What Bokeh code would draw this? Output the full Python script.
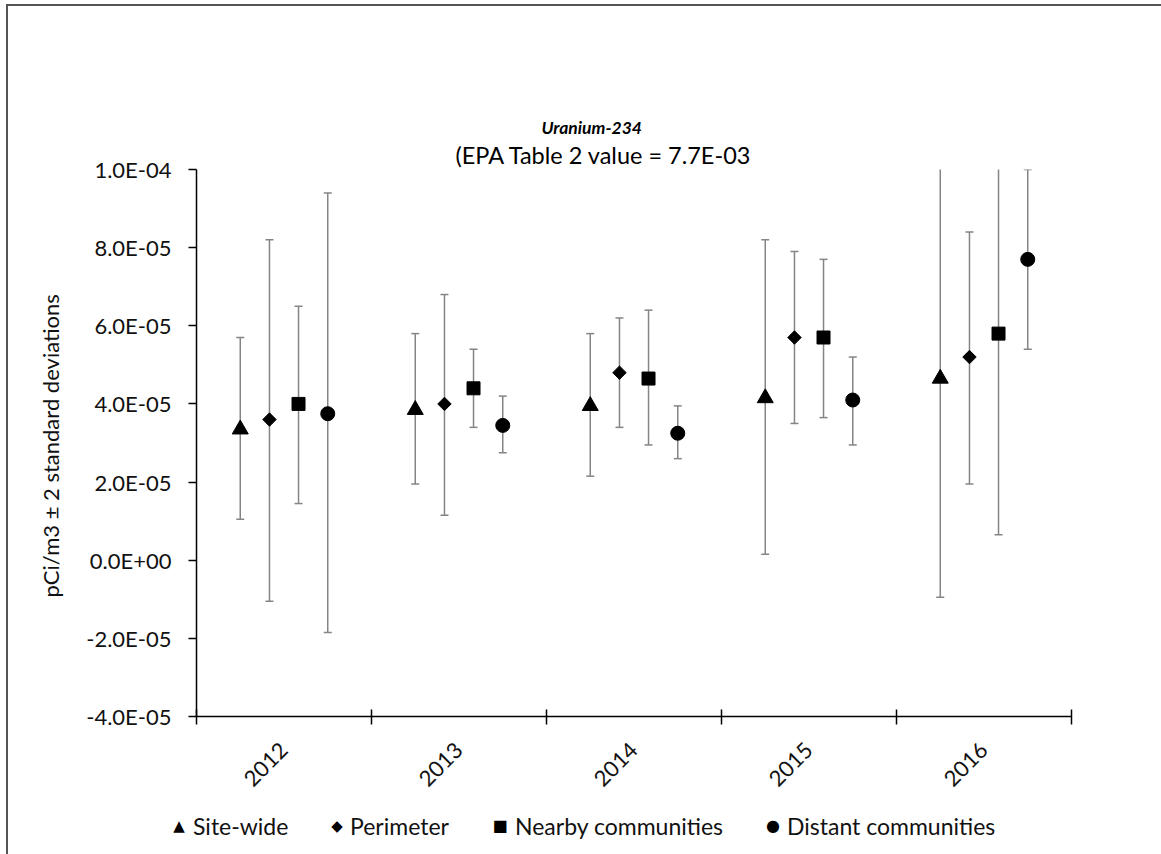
import math
from bokeh.plotting import figure
from bokeh.layouts import column
from bokeh.models import (ColumnDataSource, FixedTicker, CustomJSTickFormatter,
                          Range1d, Title, Div)
from bokeh.transform import dodge
from bokeh.embed import file_html
from bokeh.resources import INLINE

years = ["2012", "2013", "2014", "2015", "2016"]
series = ["Site-wide", "Perimeter", "Nearby communities", "Distant communities"]

site_mean = [3.35e-5, 3.85e-5, 3.95e-5, 4.15e-5, 4.65e-5]
site_lo = [1.05e-5, 1.95e-5, 2.15e-5, 0.15e-5, -0.95e-5]
site_hi = [5.7e-5, 5.8e-5, 5.8e-5, 8.2e-5, 1.03e-4]

perim_mean = [3.6e-5, 4.0e-5, 4.8e-5, 5.7e-5, 5.2e-5]
perim_lo = [-1.05e-5, 1.15e-5, 3.4e-5, 3.5e-5, 1.95e-5]
perim_hi = [8.2e-5, 6.8e-5, 6.2e-5, 7.9e-5, 8.4e-5]

near_mean = [4.0e-5, 4.4e-5, 4.65e-5, 5.7e-5, 5.8e-5]
near_lo = [1.45e-5, 3.4e-5, 2.95e-5, 3.65e-5, 0.65e-5]
near_hi = [6.5e-5, 5.4e-5, 6.4e-5, 7.7e-5, 1.09e-4]

dist_mean = [3.75e-5, 3.45e-5, 3.25e-5, 4.1e-5, 7.7e-5]
dist_lo = [-1.85e-5, 2.75e-5, 2.6e-5, 2.95e-5, 5.4e-5]
dist_hi = [9.4e-5, 4.2e-5, 3.95e-5, 5.2e-5, 1.0e-4]

y_ticks = [-4e-5, -2e-5, 0.0, 2e-5, 4e-5, 6e-5, 8e-5, 1e-4]

FONT = "Lato"
TXT = "#111111"

x_centers = [i + 0.5 for i in range(len(years))]
boundaries = [float(i) for i in range(len(years) + 1)]

p = figure(width=1153, height=794, output_backend="svg", toolbar_location=None,
           x_range=Range1d(0, len(years)), y_range=Range1d(-4e-5, 1e-4),
           min_border_left=188, min_border_right=90, min_border_top=163,
           min_border_bottom=84)
p.outline_line_color = None
p.xgrid.visible = False
p.ygrid.visible = False

# titles
p.add_layout(Title(text="(EPA Table 2 value = 7.7E-03", align="left", offset=259,
                   text_font=FONT, text_font_size="23.5px", text_font_style="normal",
                   text_color="#000000", standoff=2), "above")
p.add_layout(Title(text="Uranium-234", align="left", offset=345,
                   text_font=FONT, text_font_size="17.5px", text_font_style="bold italic",
                   text_color="#000000", standoff=0), "above")

# y axis
ya = p.yaxis[0]
ya.ticker = FixedTicker(ticks=y_ticks, minor_ticks=[])
ya.formatter = CustomJSTickFormatter(code="""
    if (Math.abs(tick) < 1e-15) { return '0.0E+00'; }
    const parts = tick.toExponential(1).split('e');
    const e = parseInt(parts[1]);
    const a = Math.abs(e);
    return parts[0] + 'E' + (e < 0 ? '-' : '+') + (a < 10 ? '0' : '') + a;
""")
ya.axis_label = "pCi/m3 \u00b1  2 standard deviations"
ya.axis_label_text_font = FONT
ya.axis_label_text_font_size = "22px"
ya.axis_label_text_font_style = "normal"
ya.axis_label_text_color = TXT
ya.axis_label_standoff = 19
ya.major_label_text_font = FONT
ya.major_label_text_font_size = "22px"
ya.major_label_text_color = TXT
ya.major_label_standoff = 17
ya.major_tick_in = 0
ya.major_tick_out = 8
ya.axis_line_color = "#000000"
ya.axis_line_width = 1.5
ya.major_tick_line_color = "#000000"
ya.major_tick_line_width = 1.5

# x axis
xa = p.xaxis[0]
xa.ticker = FixedTicker(ticks=x_centers, minor_ticks=boundaries)
xa.major_label_overrides = {c: y for c, y in zip(x_centers, years)}
xa.major_label_orientation = math.pi / 4
xa.major_label_text_font = FONT
xa.major_label_text_font_size = "22px"
xa.major_label_text_color = TXT
xa.major_label_standoff = 22
xa.major_tick_line_color = None
xa.minor_tick_in = 7
xa.minor_tick_out = 8
xa.minor_tick_line_color = "#000000"
xa.minor_tick_line_width = 1.5
xa.axis_line_color = "#000000"
xa.axis_line_width = 1.5

offsets = [-0.25, -0.083, 0.083, 0.25]
means = [site_mean, perim_mean, near_mean, dist_mean]
los = [site_lo, perim_lo, near_lo, dist_lo]
his = [site_hi, perim_hi, near_hi, dist_hi]
markers = [("triangle", 16, 0.0), ("square", 9.5, math.pi / 4),
           ("square", 13, 0.0), ("circle", 14, 0.0)]

ERR = "#858585"
for name, off, m, lo, hi, (mk, sz, ang) in zip(series, offsets, means, los, his, markers):
    src = ColumnDataSource(dict(xc=x_centers, m=m, lo=lo, hi=hi))
    xs = dodge("xc", off)
    p.segment(x0=xs, y0="lo", x1=xs, y1="hi", source=src, line_color=ERR, line_width=1.5)
    p.scatter(x=xs, y="lo", source=src, marker="dash", size=8, line_color=ERR, line_width=1.5)
    p.scatter(x=xs, y="hi", source=src, marker="dash", size=8, line_color=ERR, line_width=1.5)
    p.scatter(x=xs, y="m", source=src, marker=mk, size=sz, angle=ang,
              fill_color="#000000", line_color="#000000")

# legend strip below the chart (HTML)
legend_symbols = ["\u25B2", "\u25C6", "\u25A0", "\u25CF"]
symbol_sizes = [15, 15, 16, 16]
item_left = [163, 321, 484, 757]
label_left = [185, 342, 507, 779]
parts = []
for name, sym, ss, il, ll in zip(series, legend_symbols, symbol_sizes, item_left, label_left):
    parts.append(
        f'<span style="position:absolute;left:{il}px;top:14px;width:16px;height:24px;'
        f'line-height:24px;text-align:center;font-family:DejaVu Sans;font-size:{ss}px;'
        f'color:#000">{sym}</span>'
        f'<span style="position:absolute;left:{ll}px;top:14px;height:24px;line-height:24px;'
        f'white-space:nowrap;font-family:{FONT};font-size:23px;color:{TXT}">{name}</span>')
legend_div = Div(text='<div style="position:relative;width:1153px;height:54px;">'
                 + "".join(parts) + "</div>", width=1153, height=54,
                 styles={"margin": "0", "padding": "0"})

layout = column(p, legend_div, spacing=0,
                styles={"margin-left": "6px", "margin-top": "4px",
                        "border-left": "2px solid #555555",
                        "border-top": "2px solid #555555"})

open("out.html", "w").write(file_html(layout, INLINE))
